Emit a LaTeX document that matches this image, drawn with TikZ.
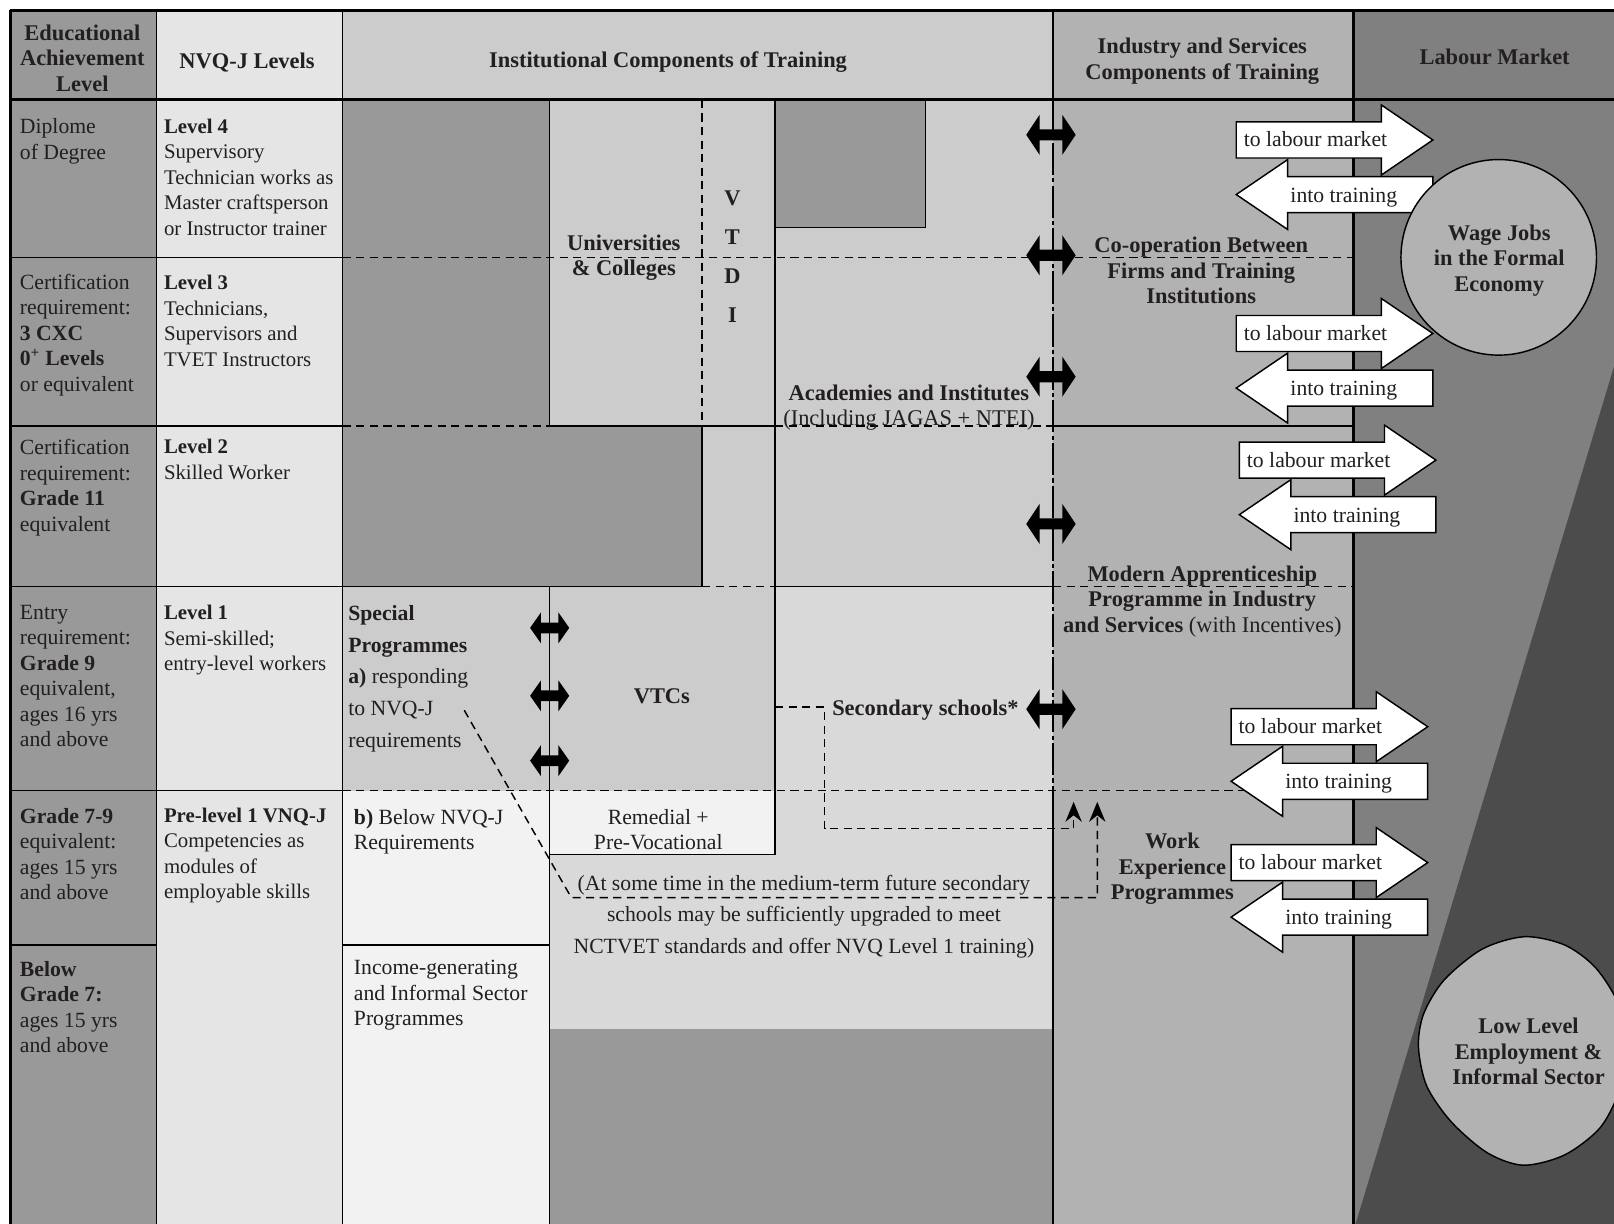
\documentclass[tikz,border=0pt]{standalone}
\usepackage{fontspec}
\setmainfont{Liberation Serif}
\usetikzlibrary{arrows.meta,positioning}
\definecolor{tvetdark}{gray}{0.6}
\definecolor{tvetmid}{gray}{0.8}
\definecolor{tvetlight}{gray}{0.85}
\definecolor{tvetpale}{gray}{0.9}
\definecolor{tvetwhite}{gray}{0.95}
\definecolor{tvetind}{gray}{0.7}
\definecolor{tvetmarket}{gray}{0.5}
\definecolor{tvetshadow}{gray}{0.3}
\definecolor{tvetink}{RGB}{35,31,32}

\begin{document}
\begin{tikzpicture}[x=0.02cm,y=-0.02cm,>={Stealth[length=11pt,width=9pt]},
  every node/.style={font=\fontsize{12}{14.1}\selectfont,text=tvetink,inner sep=0pt},
  thinline/.style={line width=0.8pt},
  thickline/.style={line width=1.8pt},
  dashline/.style={line width=0.8pt,dash pattern=on 4.5pt off 3pt},
  dashdotline/.style={line width=1.1pt,dash pattern=on 18pt off 1.7pt on 2.3pt off 1.7pt},
  txt/.style={anchor=north west,yshift=8.2pt,align=left,execute at begin node=\strut},
  txtc/.style={txt,anchor=north,align=center},
  headtxt/.style={txtc,font=\fontsize{12.4}{14.1}\selectfont\bfseries},
  nvqtxt/.style={txt,font=\fontsize{11.5}{14.1}\selectfont},
  flowbox/.style={fill=white,draw=black,thinline}]
\useasboundingbox (0,0) rectangle (1568,1189);
\clip (0,0) rectangle (1568,1189);

% column fills
\fill[tvetdark] (10,10) rectangle (152,1189);
\fill[tvetpale] (152,10) rectangle (333,1189);
\fill[tvetmid] (333,10) rectangle (1023,97);
\fill[tvetind] (1023,10) rectangle (1315,1189);
\fill[tvetmarket] (1315,10) rectangle (1568,1189);
\fill[tvetshadow] (1568,356) -- (1317,1189) -- (1568,1189) -- cycle;

% institutional blocks
\fill[tvetdark] (333,97) rectangle (534,414);
\fill[tvetdark] (333,414) rectangle (682,570);
\fill[tvetmid] (534,97) rectangle (753,414);
\fill[tvetmid] (682,414) rectangle (753,570);
\fill[tvetmid] (753,97) rectangle (1023,570);
\fill[tvetdark] (753,97) rectangle (899,221);
\fill[tvetmid] (333,570) rectangle (753,768);
\fill[tvetlight] (753,570) rectangle (1023,1000);
\fill[tvetlight] (534,768) rectangle (753,1000);
\fill[tvetwhite] (333,768) rectangle (534,1189);
\fill[tvetwhite] (534,768) rectangle (753,830);
\fill[tvetdark] (534,1000) rectangle (1023,1189);

% solid rules
\draw[thinline] (10,250) -- (333,250) (10,414) -- (333,414) (10,570) -- (333,570)
  (10,768) -- (333,768) (10,918) -- (152,918) (333,918) -- (534,918);
\draw[thinline] (152,10) -- (152,1189) (333,10) -- (333,1189) (1023,10) -- (1023,97);
\draw[thinline] (534,97) -- (534,414) -- (753,414);
\draw[thinline] (753,97) -- (753,830) -- (534,830) (534,570) -- (534,1189);
\draw[thinline] (333,570) -- (682,570) -- (682,414);
\draw[thinline] (753,570) -- (1023,570) (753,221) -- (899,221) -- (899,97);
\draw[thinline] (1023,414) -- (1315,414) (1023,768) -- (1023,1189);
% dashed rules
\draw[dashline] (333,250) -- (1315,250) (333,414) -- (534,414) (753,414) -- (1023,414)
  (682,97) -- (682,414) (682,570) -- (753,570) (1023,570) -- (1315,570) (333,768) -- (1210,768);
\draw[dashdotline] (1023,97) -- (1023,768);
\draw[thickline] (10,10) -- (1568,10) (10,10) -- (10,1189) (10,97) -- (1568,97) (1315,10) -- (1315,1189);

% dashed links to work experience
\coordinate (secLeft) at (753,687);
\coordinate (noteStart) at (451,690);
\coordinate (wepTipA) at (1043,779);
\coordinate (wepTipB) at (1066,779);
\draw[dashline,->] (secLeft) -- (801,687) -- (801,805) -- (1043,805) -- (wepTipA);
\draw[dashline,->] (noteStart) -- (555,872) -- (1066,872) -- (wepTipB);

% black double arrows
\foreach \yy in {131,248,366,509,689}
  \fill[black] (997,\yy) -- (1010,\yy-19.5) -- (1010,\yy-5.4) -- (1032,\yy-5.4) -- (1032,\yy-19.5)
    -- (1045,\yy) -- (1032,\yy+19.5) -- (1032,\yy+5.4) -- (1010,\yy+5.4) -- (1010,\yy+19.5) -- cycle;
\foreach \yy in {610,676,739}
  \fill[black] (515,\yy) -- (525.5,\yy-15) -- (525.5,\yy-5.2) -- (542.5,\yy-5.2) -- (542.5,\yy-15)
    -- (553,\yy) -- (542.5,\yy+15) -- (542.5,\yy+5.2) -- (525.5,\yy+5.2) -- (525.5,\yy+15) -- cycle;

% white flow arrows
\foreach \ax/\ry/\ly [count=\i] in {1201/136/189,1201/324/377,1204/447/500,1196/706/759,1196/838/891} {
  \filldraw[flowbox] (\ax,\ry-17.5) -- (\ax+141,\ry-17.5) -- (\ax+141,\ry-34) -- (\ax+191,\ry)
    -- (\ax+141,\ry+34) -- (\ax+141,\ry+17.5) -- (\ax,\ry+17.5) -- cycle;
  \node[txt] (toMarket\i) at (\ax+7,\ry+3.5) {to labour market};
  \filldraw[flowbox] (\ax,\ly) -- (\ax+50,\ly-34) -- (\ax+50,\ly-17.5) -- (\ax+191,\ly-17.5)
    -- (\ax+191,\ly+17.5) -- (\ax+50,\ly+17.5) -- (\ax+50,\ly+34) -- cycle;
  \node[txtc] (intoTrain\i) at (\ax+104.5,\ly+4) {into training};
}

% labour market shapes
\filldraw[fill=tvetind,draw=black,thinline] (1456,250) circle (95);
\filldraw[fill=tvetind,draw=black,thinline] plot[smooth cycle] coordinates {(1481,910) (1440,922)
  (1403,952) (1383,985) (1378,1017) (1386,1055) (1410,1090) (1445,1120) (1480,1132) (1520,1122)
  (1555,1095) (1575,1055) (1580,1017) (1572,975) (1550,940) (1520,918)};

% headers
\node[headtxt] (hEdu) at (80,38) {Educational\\Achievement\\Level};
\node[headtxt] (hNvq) at (240,63) {NVQ-J Levels};
\node[headtxt] (hInst) at (649,62) {Institutional Components of Training};
\node[headtxt] (hInd) at (1168,51) {Industry and Services\\Components of Training};
\node[headtxt] (hLab) at (1452,59) {Labour Market};

% educational achievement
\node[txt] (eduDeg) at (19,129.5) {Diplome\\of Degree};
\node[txt] (eduCxc) at (19,280) {Certification\\requirement:\\\textbf{3 CXC}\\\textbf{0\textsuperscript{+} Levels}\\or equivalent};
\node[txt] (eduG11) at (19,441) {Certification\\requirement:\\\textbf{Grade 11}\\equivalent};
\node[txt] (eduG9) at (19,602) {Entry\\requirement:\\\textbf{Grade 9}\\equivalent,\\ages 16 yrs\\and above};
\node[txt] (eduG7) at (19,799) {\textbf{Grade 7-9}\\equivalent:\\ages 15 yrs\\and above};
\node[txt] (eduLow) at (19,948) {\textbf{Below}\\\textbf{Grade 7:}\\ages 15 yrs\\and above};

% NVQ-J levels
\node[nvqtxt] (lev4) at (159,129.5) {\textbf{Level 4}\\Supervisory\\Technician works as\\Master craftsperson\\or Instructor trainer};
\node[nvqtxt] (lev3) at (159,281.5) {\textbf{Level 3}\\Technicians,\\Supervisors and\\TVET Instructors};
\node[nvqtxt] (lev2) at (159,441) {\textbf{Level 2}\\Skilled Worker};
\node[nvqtxt] (lev1) at (159,602) {\textbf{Level 1}\\Semi-skilled;\\entry-level workers};
\node[nvqtxt] (lev0) at (159,799) {\textbf{Pre-level 1 VNQ-J}\\Competencies as\\modules of\\employable skills};

% institutional components
\node[txt] (special) at (338,602) {\textbf{Special}\\[3.5pt]\textbf{Programmes}\\[3.5pt]\textbf{a)} responding\\[3.5pt]to NVQ-J\\[3.5pt]requirements};
\node[txt] (belowNvq) at (343.5,800) {\textbf{b)} Below NVQ-J\\Requirements};
\node[txt] (income) at (343.5,947) {Income-generating\\and Informal Sector\\Programmes};
\node[headtxt] (univ) at (606,242) {Universities\\\& Colleges};
\foreach \ch [count=\i] in {V,T,D,I}
  \node[headtxt] (vtdi\i) at (711.5,196+38*\i-38) {\ch};
\node[headtxt] (acad) at (883,387.6) {Academies and Institutes\\\textmd{(Including JAGAS + NTEI)}};
\node[headtxt] (vtcs) at (643,680) {VTCs};
\node[headtxt] (secSchools) at (899,691.6) {Secondary schools*};
\node[txtc] (remedial) at (639.5,800) {Remedial +\\Pre-Vocational};
\node[txtc] (futureNote) at (781,864) {(At some time in the medium-term future secondary\\[3.5pt]schools may be sufficiently upgraded to meet\\[3.5pt]NCTVET standards and offer NVQ Level 1 training)};

% industry and services
\node[headtxt] (coop) at (1167,244.5) {Co-operation Between\\Firms and Training\\Institutions};
\node[headtxt] (apprentice) at (1168,563.5) {Modern Apprenticeship\\Programme in Industry\\and Services \textmd{(with Incentives)}};
\node[headtxt] (workExp) at (1139,823.5) {Work\\Experience\\Programmes};

% labour market
\node[headtxt] (wageJobs) at (1456.5,232.5) {Wage Jobs\\in the Formal\\Economy};
\node[headtxt] (lowLevel) at (1485,1003.3) {Low Level\\Employment \&\\Informal Sector};
\end{tikzpicture}
\end{document}
